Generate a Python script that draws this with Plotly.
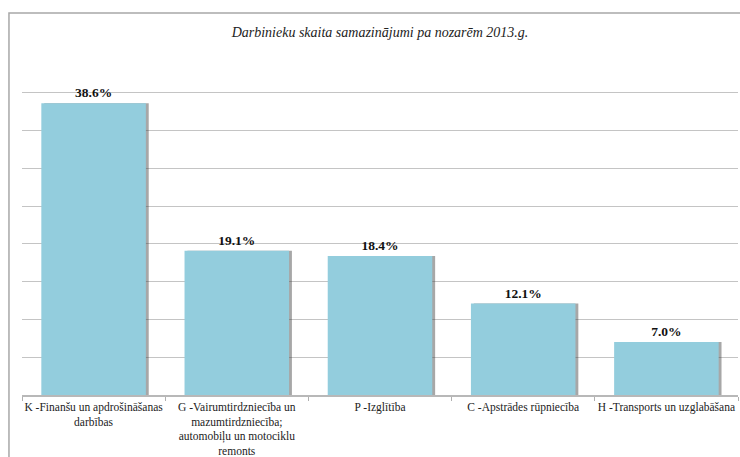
import plotly.graph_objects as go

# Sectors and share of job cuts (%), 2013
categories = [
    "K -Finanšu un apdrošināšanas<br>darbības",
    "G -Vairumtirdzniecība un<br>mazumtirdzniecība;<br>automobiļu un motociklu<br>remonts",
    "P -Izglītība",
    "C -Apstrādes rūpniecība",
    "H -Transports un uzglabāšana",
]
values = [38.6, 19.1, 18.4, 12.1, 7.0]

title_text = "Darbinieku skaita samazinājumi pa nozarēm 2013.g."

SERIF = "Liberation Serif, Times New Roman, serif"

fig = go.Figure()

# soft shadow behind each bar
fig.add_trace(go.Bar(
    x=categories, y=values,
    width=0.73, offset=-0.345,
    marker=dict(color="rgba(60,60,60,0.45)", line=dict(width=0)),
    hoverinfo="skip", showlegend=False,
))

fig.add_trace(go.Bar(
    x=categories, y=values,
    width=0.73, offset=-0.365,
    marker=dict(color="#93CDDD", line=dict(width=0)),
    text=[f"<b>{v:.1f}%</b>" for v in values],
    textposition="outside",
    textfont=dict(family=SERIF, size=13.5, color="#111111"),
    cliponaxis=False,
    showlegend=False,
))

fig.update_layout(
    width=740, height=457,
    margin=dict(l=22, r=2, t=55, b=62),
    paper_bgcolor="white",
    plot_bgcolor="white",
    barmode="overlay",
    title=dict(
        text=f"<i>{title_text}</i>",
        x=0.5, xanchor="center", y=0.93, yanchor="middle",
        xref="paper", yref="container",
        font=dict(family=SERIF, size=14, color="#222222"),
    ),
    xaxis=dict(
        tickson="boundaries", tickangle=0, automargin=False,
        ticks="outside", ticklen=4, tickcolor="#b0b0b0",
        showline=True, linecolor="#b8b8b8", linewidth=1.5,
        tickfont=dict(family=SERIF, size=11.5, color="#222222"),
        showgrid=False,
    ),
    yaxis=dict(
        range=[0, 45], dtick=5, automargin=False,
        showticklabels=False,
        showgrid=True, gridcolor="#c4c4c4", gridwidth=1.3,
        zeroline=False,
    ),
    shapes=[dict(
        type="rect", xref="paper", yref="paper",
        x0=-0.0182, x1=1.02, y0=-0.3, y1=1.1235,
        line=dict(color="#a8a8a8", width=1.5),
        layer="below",
    )],
)

# drop the browser's default page margin so the chart sits at the corner
fig.write_html(
    "out.html",
    config={"displayModeBar": False},
    post_script="document.body.style.margin='0';",
)
